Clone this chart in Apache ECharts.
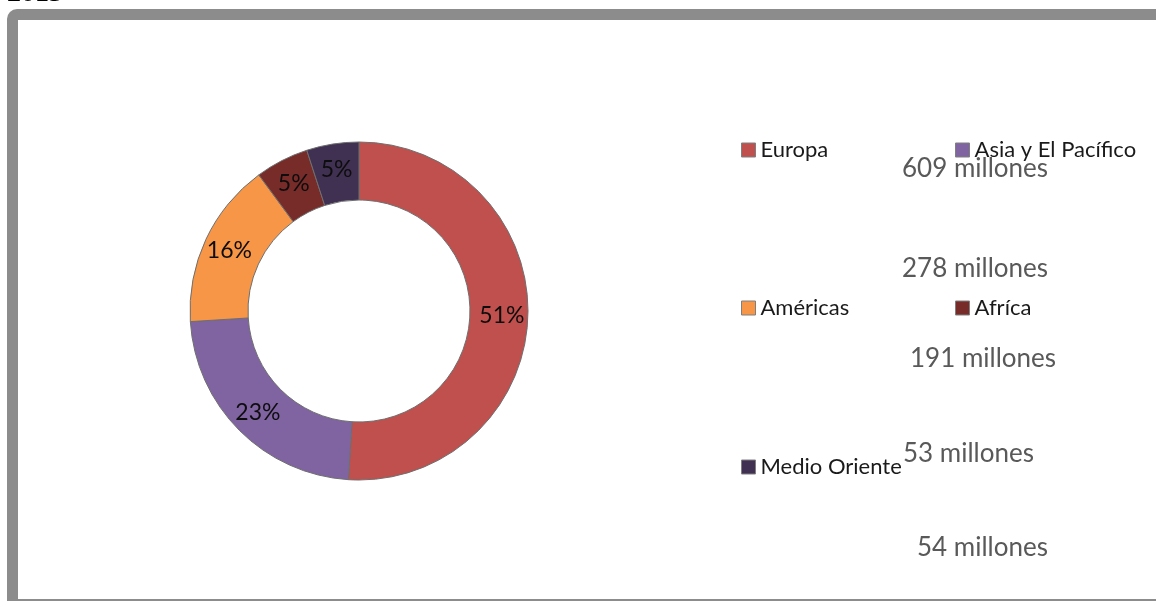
<!DOCTYPE html>
<html>
<head>
<meta charset="utf-8">
<script src="https://cdn.jsdelivr.net/npm/echarts@6/dist/echarts.min.js"></script>
<style>
  html, body { margin: 0; padding: 0; background: #ffffff; }
  #chart { width: 1156px; height: 602px; }
</style>
</head>
<body>
<div id="chart"></div>
<script>
// ---- data ----
const categories = ['Europa', 'Asia y El Pacífico', 'Américas', 'Afríca', 'Medio Oriente'];
// slice shares (%) as read from the ring
const shares = [51.0, 23.0, 15.9, 5.1, 5.0];
// text labels shown beside the legend
const valueLabels = ['609 millones', '278 millones', '191 millones', '53 millones', '54 millones'];
const colors = ['#C0504D', '#8064A2', '#F79646', '#772C2A', '#403152'];
const yearText = '2015';

// ---- layout (not data) ----
const legendSpots = [[741, 139], [955, 139], [741, 297], [955, 297], [741, 456]];
const valueLabelSpots = [[902, 169], [902, 269], [910, 359], [903, 454], [917, 548]];

const FONT = 'Lato, "Open Sans", sans-serif';

const chart = echarts.init(document.getElementById('chart'), null, { renderer: 'canvas' });

const legends = categories.map((name, i) => ({
  data: [name],
  left: legendSpots[i][0],
  top: legendSpots[i][1],
  orient: 'horizontal',
  icon: 'rect',
  itemWidth: 14,
  itemHeight: 14,
  itemGap: 0,
  selectedMode: false,
  padding: 0,
  itemStyle: { borderColor: '#7f7f7f', borderWidth: 1 },
  textStyle: { fontFamily: FONT, fontSize: 22, color: '#1a1a1a', lineHeight: 22, padding: [0, 0, 0, 0] }
}));

const valueTexts = valueLabels.map((t, i) => ({
  type: 'text',
  x: valueLabelSpots[i][0],
  y: valueLabelSpots[i][1],
  z: 10,
  silent: true,
  style: {
    text: t,
    fill: '#595959',
    font: '26px ' + FONT,
    textAlign: 'left',
    textVerticalAlign: 'middle'
  }
}));

const option = {
  animation: false,
  backgroundColor: '#ffffff',
  color: colors,
  legend: legends,
  graphic: [
    { type: 'rect', z: -10, silent: true,
      shape: { x: 7, y: 9, width: 1200, height: 592, r: [10, 0, 0, 0] },
      style: { fill: '#8c8c8c' } },
    { type: 'rect', z: -9, silent: true,
      shape: { x: 18, y: 20, width: 1200, height: 579 },
      style: { fill: '#ffffff' } },
    { type: 'rect', z: -9, silent: true,
      shape: { x: 0, y: 601, width: 1200, height: 2 },
      style: { fill: '#ffffff' } },
    { type: 'text', x: 7, y: 8, silent: true,
      style: { text: yearText, font: 'bold 28px "Liberation Serif", serif', fill: '#000000',
               textAlign: 'left', textVerticalAlign: 'bottom' } }
  ].concat(valueTexts),
  series: [{
    type: 'pie',
    center: [359, 311],
    radius: [111, 169],
    startAngle: 90,
    clockwise: true,
    percentPrecision: 0,
    avoidLabelOverlap: false,
    itemStyle: { borderColor: '#6f6f6f', borderWidth: 1 },
    label: {
      show: true,
      position: 'inside',
      formatter: '{d}%',
      fontFamily: FONT,
      fontSize: 23,
      color: '#0d0d0d'
    },
    labelLine: { show: false },
    emphasis: { disabled: true },
    data: categories.map((n, i) => ({ name: n, value: shares[i] }))
  }]
};

chart.setOption(option);
</script>
</body>
</html>
